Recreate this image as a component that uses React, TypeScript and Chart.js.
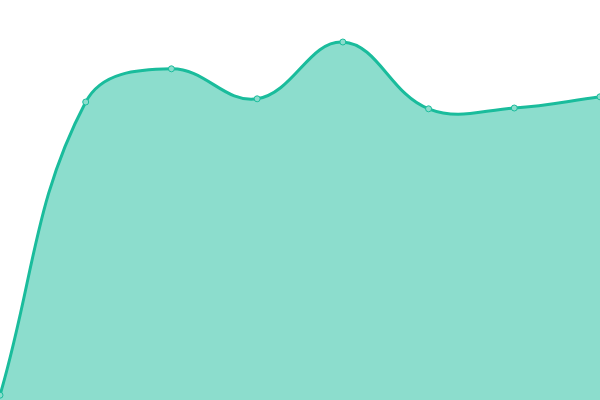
import React, { useEffect, useRef } from "react";
import { Chart, registerables } from "chart.js";

Chart.register(...registerables);

const labels = ["1", "2", "3", "4", "5", "6", "7", "8"];
const values = [1.2, 74.5, 82.8, 75.3, 89.5, 72.8, 73, 75.8];

export default function App() {
  const canvasRef = useRef<HTMLCanvasElement>(null);

  useEffect(() => {
    if (!canvasRef.current) return;
    const chart = new Chart(canvasRef.current, {
      type: "line",
      data: {
        labels: labels,
        datasets: [
          {
            data: values,
            fill: true,
            tension: 0.4,
            borderColor: "#1abc9c",
            borderWidth: 3,
            backgroundColor: "rgba(26, 188, 156, 0.5)",
            pointRadius: 3,
            pointBorderWidth: 1,
            pointBackgroundColor: "#8cddcd",
            pointBorderColor: "#1abc9c",
          },
        ],
      },
      options: {
        animation: false,
        responsive: true,
        maintainAspectRatio: false,
        layout: { padding: 0, autoPadding: false },
        scales: {
          x: { display: false },
          y: { display: false, min: 0, max: 100 },
        },
        plugins: {
          legend: { display: false },
          tooltip: { enabled: false },
        },
      },
    });
    return () => chart.destroy();
  });

  return (
    <div style={{ position: "fixed", left: 0, top: 0, width: 600, height: 400 }}>
      <canvas ref={canvasRef}></canvas>
    </div>
  );
}
